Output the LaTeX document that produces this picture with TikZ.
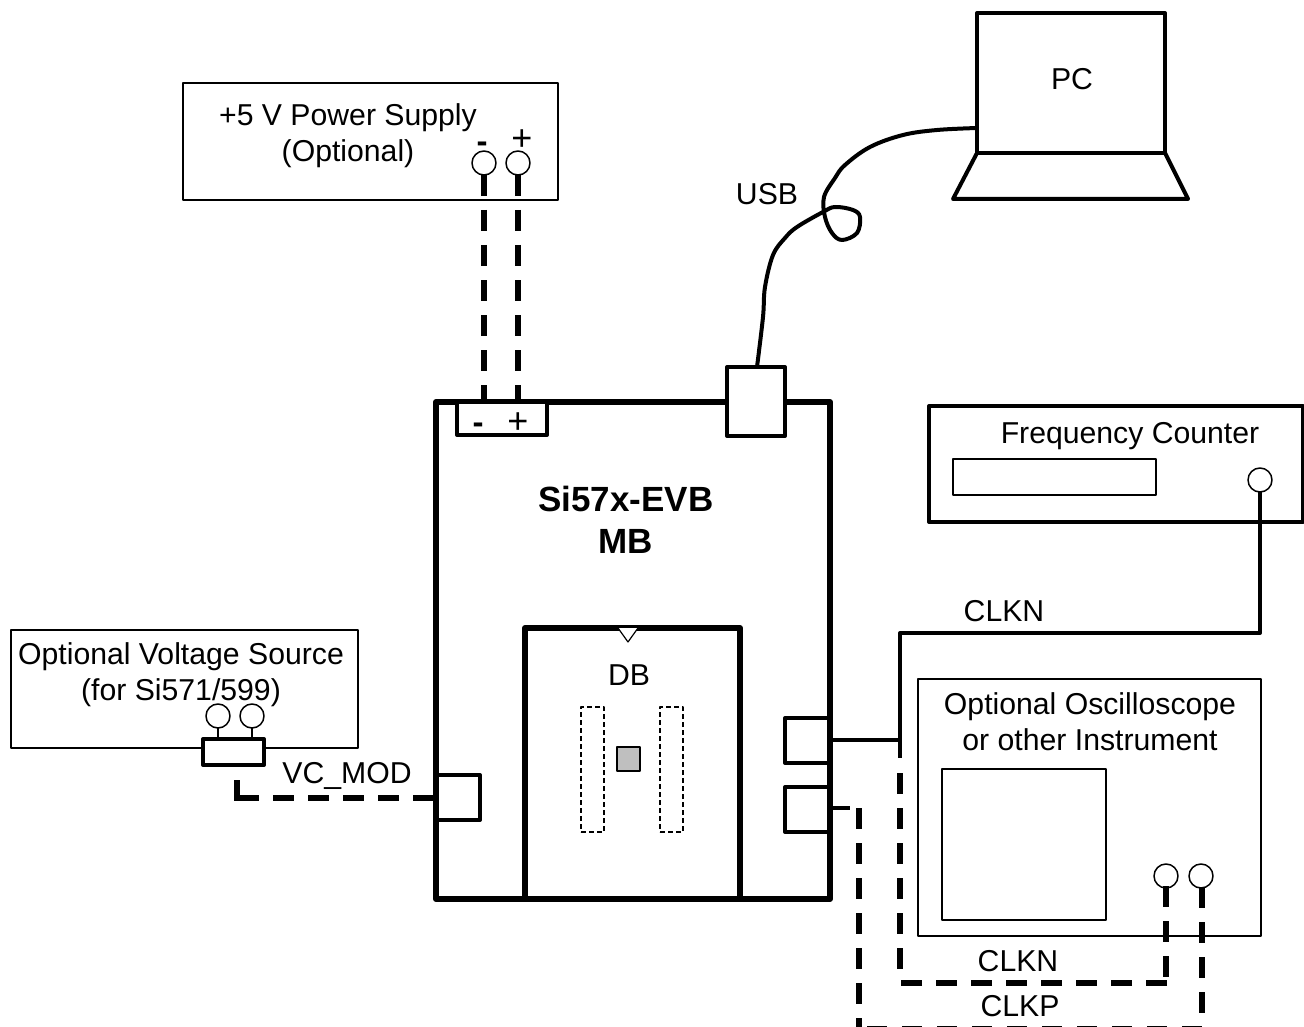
\documentclass[tikz,border=0pt]{standalone}
\usepackage{fontspec}
\setmainfont{Liberation Sans}
\newcommand{\boxat}[6][]{\node[#1,minimum width=#5-#3,minimum height=#6-#4] (#2) at ({(#3+#5)/2},{(#4+#6)/2}) {};}
\begin{document}
\begin{tikzpicture}[x=1pt,y=-1pt,line join=round,
  thinbox/.style={draw=black,fill=white,line width=1.4pt,inner sep=0,outer sep=0},
  medbox/.style={draw=black,fill=white,line width=4pt,inner sep=0,outer sep=0},
  heavybox/.style={draw=black,fill=white,line width=6pt,inner sep=0,outer sep=0},
  port/.style={circle,draw=black,fill=white,line width=1.5pt,minimum size=24pt,inner sep=0,outer sep=0},
  lbl/.style={inner sep=0,outer sep=0,align=center,font=\fontsize{30.2}{36}\selectfont},
  signlbl/.style={inner sep=0,outer sep=0,font=\fontsize{36}{36}\selectfont},
  boldlbl/.style={inner sep=0,outer sep=0,align=center,font=\fontsize{35}{42}\selectfont\bfseries},
  solidwire/.style={draw=black,line width=4pt},
  dashwire/.style={draw=black,line width=6pt,dash pattern=on 21pt off 14pt},
  thinwire/.style={draw=black,line width=1.5pt},
  cable/.style={draw=black,line width=4pt,line cap=round,line join=round},
  pinstrip/.style={draw=black,fill=white,line width=1.5pt,dash pattern=on 5pt off 3pt}]
\useasboundingbox (0,0) rectangle (1304,1027);
\clip (0,0) rectangle (1304,1027);

% Power supply
\boxat[thinbox]{ps}{183}{83}{558}{200}
\node[lbl] (pst) at (348,136) {+5 V Power Supply\\(Optional)};
\node[signlbl] (psm) at (482,147) {\bfseries\fontsize{33}{36}\selectfont -};
\node[signlbl] (psp) at (522,140) {+};
\node[port] (pa) at (484,163) {};
\node[port] (pb) at (518,163) {};

% Voltage source
\boxat[thinbox]{vs}{11}{630}{358}{748}
\node[lbl] (vst) at (181,675) {Optional Voltage Source\\(for Si571/599)};
\node[port] (va) at (218,716) {};
\node[port] (vb) at (252,716) {};
\boxat[medbox]{vc}{203}{739}{264}{765}
\draw[thinwire] (va.south) -- (va.south |- vc.north);
\draw[thinwire] (vb.south) -- (vb.south |- vc.north);

% Motherboard
\boxat[heavybox]{mb}{436}{402}{830}{899}
\boxat[medbox]{tb}{457}{402}{547}{435}
\boxat[medbox]{usbc}{727}{367}{785}{436}
\boxat[medbox]{vcc}{436}{775}{480}{820}
\boxat[medbox]{cn}{785}{718}{830}{763}
\boxat[medbox]{cp}{785}{787}{830}{832}
\draw[line width=6pt] (mb.north east) -- (mb.south east);
\draw[line width=6pt] (mb.north west) -- (mb.south west);
\node[signlbl] (tbm) at (478,428) {\bfseries\fontsize{33}{36}\selectfont -};
\node[signlbl] (tbp) at (518,423) {+};
\node[boldlbl] (mbt) at (626,520) {Si57x-EVB\\MB};

% Daughter board
\boxat[heavybox]{db}{525}{628}{740}{899}
\fill[white] (618,628) -- (638,628) -- (628,642) -- cycle;
\draw[draw=black,line width=1.2pt] (618,628) -- (628,642) -- (638,628);
\node[lbl] (dbt) at (629,675) {DB};
\boxat[pinstrip]{sa}{581}{707}{604}{832}
\boxat[pinstrip]{sb}{660}{707}{683}{832}
\boxat[thinbox,fill=black!25]{chip}{617}{747}{640}{771}

% PC
\boxat[medbox]{pc}{977}{13}{1165}{153}
\draw[line width=4pt] (pc.south west) -- (953,199) -- (1188,199) -- (pc.south east);
\node[lbl] (pct) at (1072,79) {PC};
\coordinate (usbend) at (pc.west |- 0,128);
\coordinate (usbstart) at (usbc.north -| 757,0);
\draw[cable] plot[smooth,tension=0.6] coordinates {(usbstart) (763,317) (765,287) (773,255) (785,238) (797,227) (823,212) (835,207) (853,210) (860,217) (857,233) (842,240) (832,233) (825,217) (824,197) (835,178) (845,165) (870,147) (903,135) (937,130) (usbend)};
\node[lbl] (usbt) at (767,194) {USB};

% Frequency counter
\boxat[medbox]{fc}{929}{406}{1303}{522}
\boxat[thinbox]{fd}{953}{459}{1156}{495}
\node[lbl] (fct) at (1130,436) {Frequency Counter};
\node[port] (fp) at (1260,480) {};

% Oscilloscope
\boxat[thinbox]{os}{918}{679}{1261}{936}
\boxat[thinbox]{ss}{942}{769}{1106}{920}
\node[lbl] (ost) at (1090,722) {Optional Oscilloscope\\or other Instrument};
\node[port] (oa) at (1166,876) {};
\node[port] (ob) at (1201,876) {};

% Wires
\draw[dashwire] (pa.south) -- (pa.south |- mb.north);
\draw[dashwire] (pb.south) -- (pb.south |- mb.north);
\coordinate (vcb) at (237,798);
\draw[dashwire] (237,780) -- (237,801);
\draw[dashwire] (238,798) -- (vcc.west |- vcb);

\coordinate (cnj) at (900,740);
\draw[solidwire] (cn.east |- cnj) -- (cnj);
\draw[solidwire] (fp.south) -- (fp.south |- 0,633) -- (900,633) -- (900,758);
\draw[dashwire] (900,773) -- (900,983);
\draw[dashwire] (1167,983) -- (900,983);
\draw[dashwire] (oa.south) ++(0,-2) -- (1166,983);
\coordinate (cps) at (850,808);
\draw[solidwire] (cp.east |- cps) -- (cps);
\draw[dashwire] (859,808) -- (859,1027);
\draw[draw=black,line width=6pt,dash pattern=on 20pt off 15pt] (867,1028.7) -- (1204,1028.7);
\draw[dashwire] (ob.south) ++(1,-1) -- (1202,1027);

\node[lbl] (clkn1) at (1004,611) {CLKN};
\node[lbl] (clkn2) at (1018,961) {CLKN};
\node[lbl] (clkp) at (1020,1006) {CLKP};
\node[lbl] (vcm) at (347,776) {VC\_MOD};
\end{tikzpicture}
\end{document}
